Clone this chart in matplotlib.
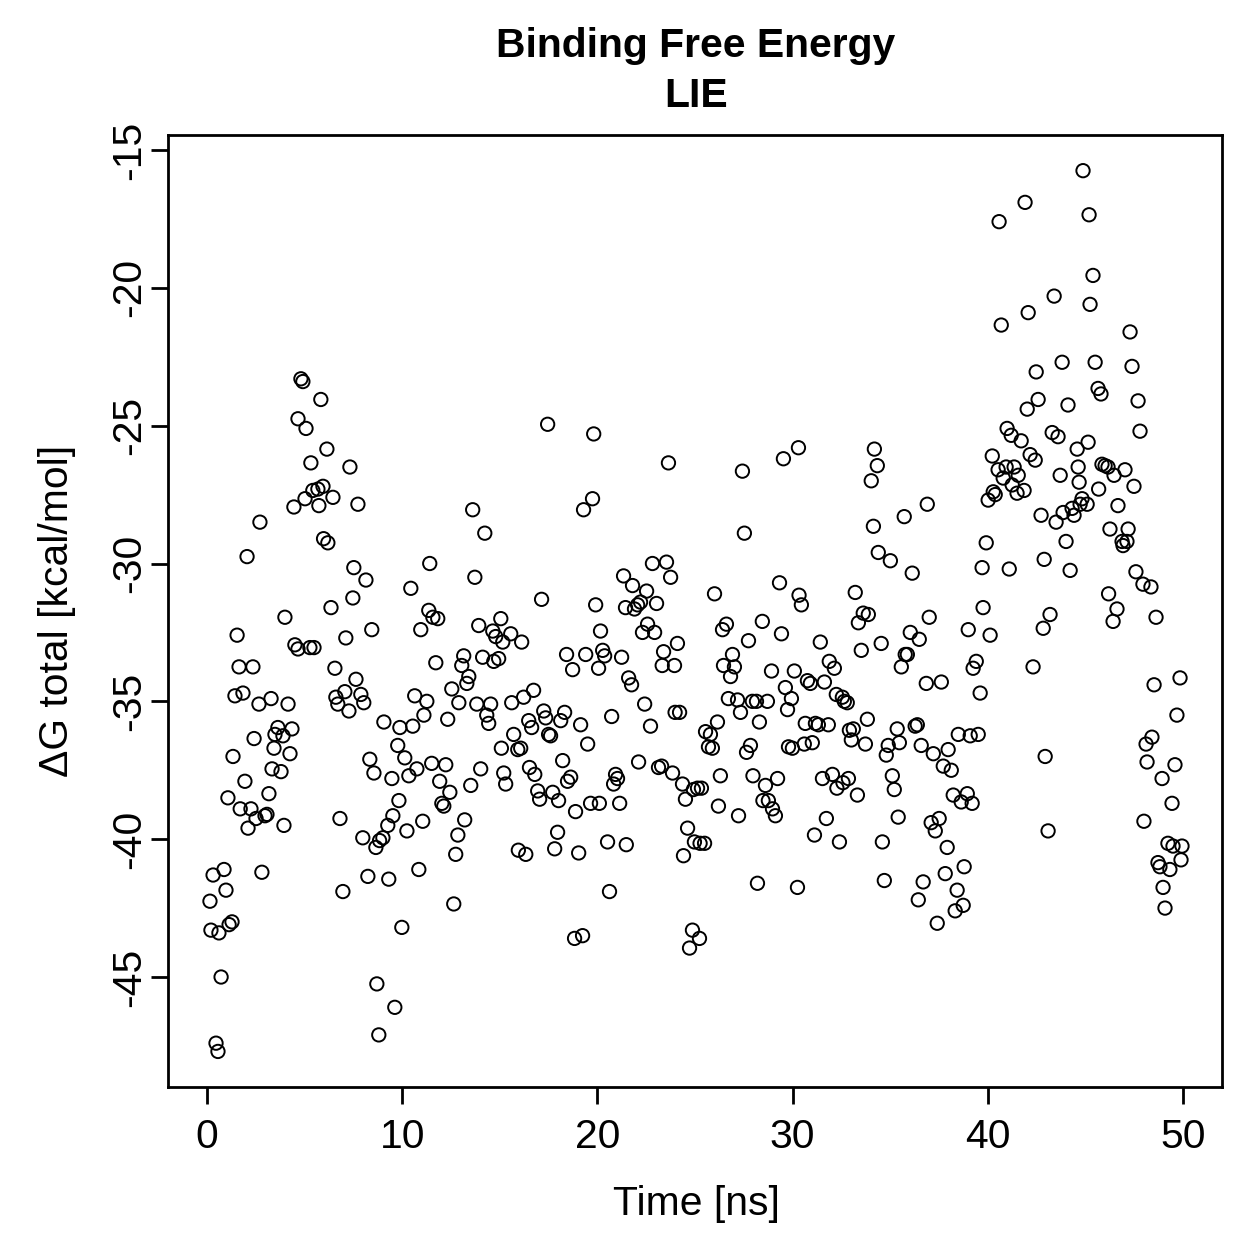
import matplotlib
matplotlib.use("Agg")
import matplotlib.pyplot as plt
import numpy as np

plt.rcParams['font.family'] = ['Liberation Sans', 'DejaVu Sans']

# ---- data: time [ns] and dG total [kcal/mol] ----
t_0_10 = [0.15,0.20,0.31,0.46,0.56,0.61,0.72,0.87,0.97,1.07,1.13,1.28,1.33,1.43,1.54,1.64,1.70,1.84,1.94,2.05,
          2.10,2.25,2.35,2.41,2.51,2.66,2.71,2.81,2.97,3.07,3.17,3.28,3.33,3.43,3.48,3.63,3.79,3.89,3.94,3.99,
          4.15,4.25,4.35,4.45,4.50,4.66,4.66,4.81,4.91,5.02,5.07,
          5.27,5.32,5.42,5.48,5.68,5.73,5.83,5.94,5.97,6.14,6.19,6.35,6.45,6.55,6.60,6.70,6.81,6.96,7.06,7.11,
          7.27,7.32,7.47,7.52,7.63,7.73,7.88,7.98,8.03,8.14,8.24,8.34,8.44,8.55,8.65,8.70,8.80,8.84,9.01,9.06,
          9.26,9.31,9.47,9.52,9.62,9.77,9.83,9.88,9.98]
g_0_10 = [-42.25,-43.3,-41.3,-47.4,-47.7,-43.4,-45.0,-41.1,-41.85,-38.5,-43.1,-43.0,-37.0,-34.8,-32.6,-33.75,-38.9,-34.7,-37.9,-29.75,
          -39.6,-38.9,-33.75,-36.35,-39.25,-35.1,-28.5,-41.2,-39.15,-39.1,-38.35,-34.9,-37.45,-36.7,-36.2,-35.95,-37.55,-36.25,-39.5,-31.95,
          -35.1,-36.9,-36.0,-27.95,-32.95,-24.75,-33.1,-23.3,-23.4,-27.65,-25.1,
          -33.05,-26.35,-27.35,-33.05,-27.3,-27.9,-24.05,-27.2,-29.1,-25.85,-29.25,-31.6,-27.6,-33.8,-34.85,-35.1,-39.25,-41.9,-34.65,-32.7,
          -35.35,-26.5,-31.25,-30.15,-34.2,-27.85,-34.75,-39.95,-35.05,-30.6,-41.35,-37.1,-32.4,-37.6,-40.3,-45.25,-47.1,-40.05,-39.95,-35.75,
          -39.5,-41.45,-37.8,-39.15,-46.1,-36.6,-38.6,-35.95,-43.2]

t_10_20 = [10.13,10.24,10.34,10.44,10.54,10.64,10.75,10.85,10.95,11.05,11.11,11.26,11.36,11.41,11.51,11.57,11.72,11.82,11.92,12.03,
           12.13,12.23,12.33,12.44,12.54,12.64,12.74,12.85,12.90,13.05,13.15,13.20,13.31,13.41,13.51,13.61,13.72,13.82,13.92,14.02,
           14.12,14.23,14.33,14.43,14.53,14.64,14.69,14.79,14.94,15.05,15.08,15.15,15.20,15.30,
           15.56,15.61,15.71,15.92,15.95,16.07,16.12,16.22,16.33,16.48,16.52,16.63,16.73,16.79,16.94,17.04,17.14,17.25,17.35,17.45,
           17.50,17.60,17.71,17.81,17.96,18.01,18.12,18.22,18.32,18.42,18.47,18.63,18.73,18.83,18.88,19.04,19.14,19.24,19.29,19.40,
           19.50,19.65,19.75,19.81,19.91,20.06,20.10,20.16,20.27]
g_10_20 = [-37.05,-39.7,-37.7,-30.9,-35.9,-34.8,-37.45,-41.1,-32.4,-39.35,-35.5,-35.0,-31.7,-30.0,-37.25,-31.95,-33.6,-32.0,-37.9,-38.7,
           -38.8,-37.3,-35.65,-38.3,-34.55,-42.35,-40.55,-39.85,-35.05,-33.7,-33.35,-39.3,-34.35,-34.1,-38.05,-28.05,-30.5,-35.1,-32.25,-37.45,
           -33.4,-28.9,-35.5,-35.8,-35.1,-32.45,-33.55,-32.65,-33.45,-32.0,-36.7,-32.85,-37.6,-38.0,
           -32.55,-35.05,-36.2,-36.75,-40.4,-36.7,-32.85,-34.85,-40.55,-35.7,-37.4,-35.95,-34.6,-37.65,-38.25,-38.55,-31.3,-35.35,-35.6,-24.95,
           -36.2,-36.25,-38.3,-40.35,-39.75,-38.6,-35.7,-37.15,-35.4,-33.3,-37.9,-37.75,-33.85,-43.6,-39.0,-40.5,-35.85,-43.5,-28.05,-33.3,
           -36.55,-38.7,-27.65,-25.3,-31.5,-33.8,-38.7,-32.45,-33.15]

t_20_30 = [20.37,20.52,20.62,20.73,20.83,20.93,21.03,21.14,21.24,21.34,21.44,21.48,21.60,21.75,21.80,21.90,22.06,22.11,22.21,22.31,
           22.42,22.52,22.57,22.72,22.82,22.93,23.03,23.13,23.29,23.32,23.39,23.54,23.64,23.75,23.85,23.95,23.98,24.10,24.21,24.36,
           24.41,24.51,24.62,24.72,24.87,24.92,24.97,25.13,25.23,25.26,25.33,25.49,
           25.54,25.69,25.79,25.89,26.00,26.15,26.20,26.30,26.41,26.46,26.61,26.71,26.82,26.92,27.02,27.18,27.23,27.33,27.43,27.53,
           27.64,27.74,27.84,27.94,27.97,28.15,28.20,28.30,28.45,28.48,28.61,28.71,28.76,28.92,28.97,29.12,29.23,29.33,29.43,29.53,
           29.63,29.74,29.79,29.94,29.99,30.09,30.25,30.30,30.33,30.45]
g_20_30 = [-33.35,-40.1,-41.9,-35.55,-38.0,-37.65,-37.8,-38.7,-33.4,-30.45,-31.6,-40.2,-34.15,-34.4,-30.8,-31.65,-31.5,-37.2,-31.4,-32.5,
           -35.1,-31.0,-32.2,-35.9,-30.0,-32.5,-31.45,-37.4,-37.35,-33.7,-33.2,-29.95,-26.35,-30.5,-37.6,-33.7,-35.4,-32.9,-35.4,-38.0,
           -40.6,-38.55,-39.6,-43.95,-43.3,-38.2,-40.1,-38.15,-43.6,-40.15,-38.15,-40.15,
           -36.1,-36.65,-36.2,-36.7,-31.1,-35.75,-38.8,-37.7,-32.4,-33.7,-32.2,-34.9,-34.1,-33.3,-33.75,-34.95,-39.15,-35.4,-26.65,-28.9,
           -36.85,-32.8,-36.6,-35.0,-37.7,-35.0,-41.6,-35.75,-32.1,-38.6,-38.05,-35.0,-38.6,-33.9,-38.9,-39.15,-37.8,-30.7,-32.55,-26.2,
           -34.5,-35.3,-36.65,-34.9,-36.7,-33.9,-41.75,-25.8,-31.15,-31.5]

t_30_40 = [30.60,30.65,30.76,30.91,31.01,31.12,31.17,31.32,31.42,31.53,31.63,31.73,31.83,31.88,32.04,32.14,32.24,32.27,32.40,32.55,
           32.58,32.65,32.80,32.86,32.91,33.01,33.11,33.21,33.32,33.37,33.52,33.62,33.73,33.83,33.88,34.03,34.14,34.19,34.34,34.39,
           34.54,34.60,34.70,34.80,34.90,35.01,35.11,35.21,35.36,35.41,35.47,
           35.57,35.72,35.77,35.88,36.03,36.13,36.28,36.39,36.44,36.49,36.59,36.69,36.85,36.90,37.00,37.10,37.21,37.31,37.41,37.51,
           37.62,37.72,37.82,37.92,37.97,38.13,38.23,38.33,38.43,38.49,38.64,38.74,38.79,38.95,39.00,39.10,39.20,39.25,39.41,39.51,
           39.61,39.71,39.76,39.92,40.02,40.12,40.23,40.28,40.38,40.53]
g_30_40 = [-36.55,-35.8,-34.25,-34.35,-36.5,-39.85,-35.8,-35.85,-32.85,-37.8,-34.3,-39.25,-35.85,-33.55,-37.65,-33.8,-34.75,-38.15,-40.1,-34.85,
           -37.95,-35.0,-35.05,-37.8,-36.05,-36.4,-36.0,-31.05,-38.4,-32.15,-33.15,-31.8,-36.55,-35.65,-31.85,-27.0,-28.65,-25.85,-26.45,-29.6,
           -32.9,-40.1,-41.5,-36.95,-36.6,-29.9,-37.7,-38.2,-36.0,-39.2,-36.5,
           -33.75,-28.3,-33.3,-33.3,-32.5,-30.35,-35.9,-35.85,-42.2,-32.75,-36.6,-41.55,-34.35,-27.85,-31.95,-39.4,-36.9,-39.7,-43.05,-39.25,
           -34.3,-37.35,-41.25,-40.3,-36.75,-37.5,-38.4,-42.6,-41.85,-36.2,-38.65,-42.4,-41.0,-38.35,-32.4,-36.25,-38.7,-33.8,-33.55,-36.2,
           -34.7,-30.15,-31.6,-29.25,-27.7,-32.6,-26.1,-27.4,-27.5,-26.6]

t_40_50 = [40.58,40.69,40.79,40.94,40.99,41.10,41.20,41.25,41.35,41.50,41.56,41.71,41.86,41.91,42.02,42.07,42.17,42.32,42.43,42.48,
           42.58,42.73,42.84,42.89,42.94,43.09,43.19,43.30,43.40,43.50,43.60,43.71,43.81,43.86,44.01,44.11,44.22,44.32,44.42,
           44.58,44.63,44.68,44.73,44.83,44.88,45.09,45.14,45.19,45.24,45.39,45.50,45.65,45.68,45.80,45.85,46.01,46.16,46.19,46.26,
           46.42,46.47,46.62,46.67,46.88,46.93,47.03,47.13,47.19,47.29,47.39,47.49,47.59,47.70,47.80,47.95,48.00,48.11,48.16,48.36,
           48.41,48.52,48.62,48.72,48.82,48.93,48.98,49.08,49.23,49.33,49.44,49.49,49.59,49.69,49.85,49.90,49.95]
g_40_50 = [-17.6,-21.35,-26.9,-26.5,-25.1,-30.2,-25.35,-27.15,-26.5,-27.45,-26.8,-25.55,-27.35,-16.9,-24.4,-20.9,-26.05,-33.75,-26.25,-23.05,
           -24.05,-28.25,-32.35,-29.85,-37.0,-39.7,-31.85,-25.25,-20.3,-28.5,-25.4,-26.8,-22.7,-28.15,-29.2,-24.25,-30.25,-28.0,-28.25,
           -25.85,-26.5,-27.05,-27.85,-27.65,-15.75,-27.85,-25.6,-17.35,-20.6,-19.55,-22.7,-23.65,-27.3,-23.85,-26.4,-26.45,-26.5,-31.1,-28.75,
           -32.1,-26.8,-31.65,-27.9,-29.2,-29.35,-26.6,-29.2,-28.75,-21.6,-22.85,-27.2,-30.3,-24.1,-25.2,-30.75,-39.35,-36.55,-37.2,-30.85,
           -36.3,-34.4,-31.95,-40.85,-41.0,-37.8,-41.75,-42.5,-40.15,-41.1,-38.7,-40.25,-37.3,-35.5,-34.15,-40.75,-40.25]

x_ticks = [0, 10, 20, 30, 40, 50]
y_ticks = [-45, -40, -35, -30, -25, -20, -15]

time = np.array(t_0_10 + t_10_20 + t_20_30 + t_30_40 + t_40_50)
dg = np.array(g_0_10 + g_10_20 + g_20_30 + g_30_40 + g_40_50)

# ---- figure ----
W = 1259
fig = plt.figure(figsize=(W / 100, W / 100), dpi=100)
ax = fig.add_axes([168 / W, (W - 1087) / W, (1222 - 168) / W, (1087 - 135) / W])

ax.scatter(time, dg, s=92, facecolors='none', edgecolors='black', linewidths=1.4, zorder=3)

ax.set_xlim(-2, 52)
ax.set_ylim(-48.99, -14.456)
ax.set_xticks(x_ticks)
ax.set_yticks(y_ticks)
ax.set_xticklabels([str(v) for v in x_ticks])
ax.set_yticklabels([str(v) for v in y_ticks], rotation=90, va='center')

fs = 29.4
for sp in ax.spines.values():
    sp.set_linewidth(2.0)
ax.tick_params(axis='both', direction='out', length=12.5, width=2.0, labelsize=fs, colors='black')
ax.tick_params(axis='x', pad=10)
ax.tick_params(axis='y', pad=2)

fig.text(696 / W, 1 - 57 / W, 'Binding Free Energy', ha='center', va='baseline',
         fontsize=fs, fontweight='bold')
fig.text(696 / W, 1 - 107 / W, 'LIE', ha='center', va='baseline',
         fontsize=fs, fontweight='bold')
fig.text(696 / W, 1 - 1215 / W, 'Time [ns]', ha='center', va='baseline', fontsize=fs)
fig.text(57 / W, 1 - 611 / W, '\u0394G total [kcal/mol]', ha='center', va='center',
         rotation=90, fontsize=fs)

fig.savefig('out.png', dpi=100)
